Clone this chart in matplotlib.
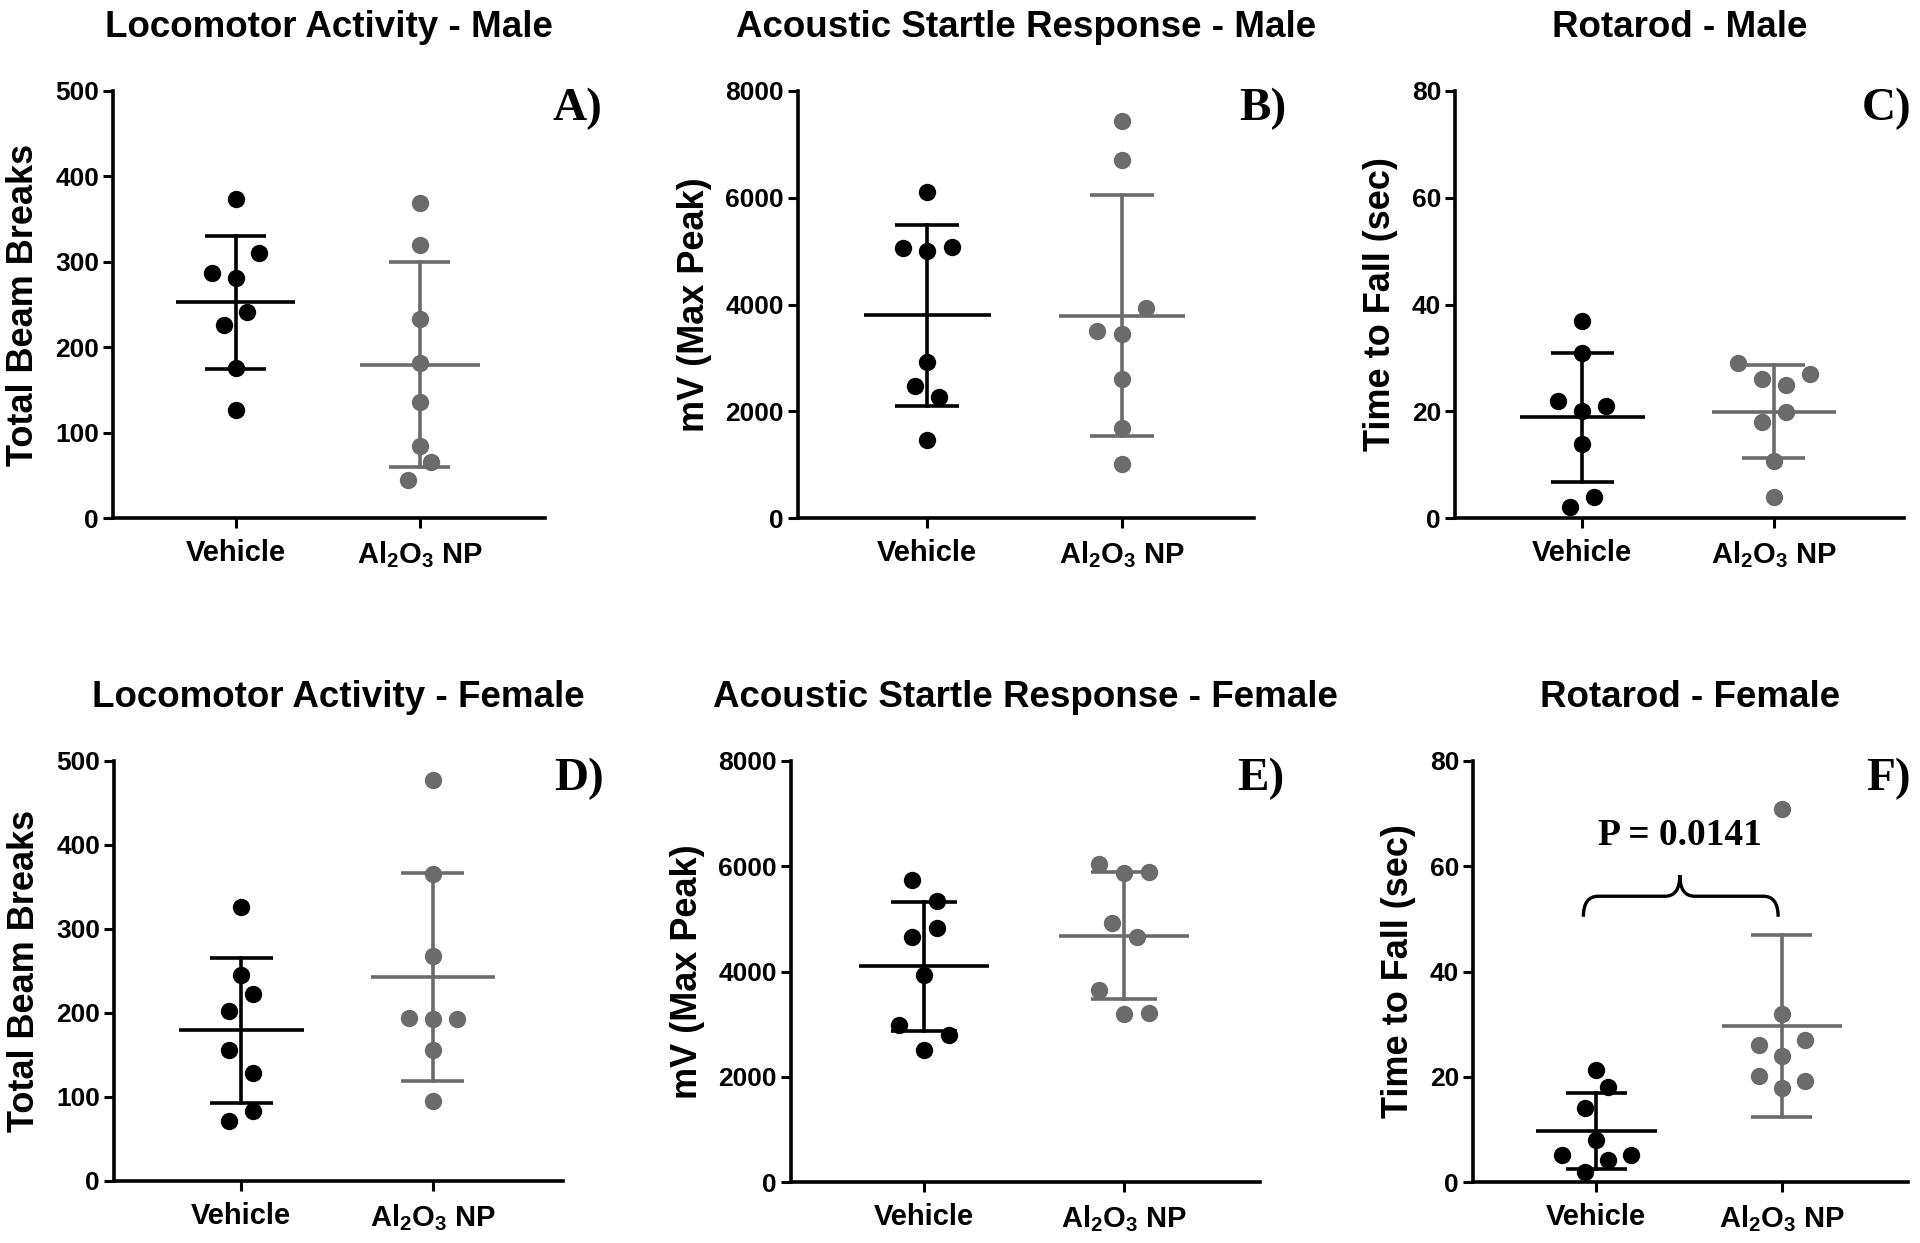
import numpy as np
import matplotlib
matplotlib.use('Agg')
import matplotlib.pyplot as plt
from matplotlib.path import Path
from matplotlib.patches import PathPatch

plt.rcParams['font.family'] = ['Liberation Sans', 'DejaVu Sans']
plt.rcParams['font.weight'] = 'bold'
plt.rcParams['mathtext.fontset'] = 'custom'
plt.rcParams['mathtext.rm'] = 'Liberation Sans'
plt.rcParams['mathtext.default'] = 'rm'

# ─── Data ────────────────────────────────────────────────────────────────────
GROUPS = ['Vehicle', r'Al$_2$O$_3$ NP']

loco_male_veh = [373, 310, 287, 281, 241, 226, 176, 126]
loco_male_np = [369, 320, 233, 182, 136, 84, 66, 45]
asr_male_veh = [6100, 5050, 5000, 5085, 2930, 2475, 2275, 1460]
asr_male_np = [7430, 6710, 3930, 3505, 3450, 2595, 1685, 1015]
rota_male_veh = [36.9, 30.9, 22.0, 21.0, 20.1, 13.9, 4.0, 2.1]
rota_male_np = [29.0, 27.0, 26.0, 24.9, 19.9, 18.0, 10.6, 4.0]

loco_fem_veh = [326, 245, 223, 202, 156, 129, 83, 72]
loco_fem_np = [477, 366, 268, 194, 193, 193, 156, 95]
asr_fem_veh = [5745, 5335, 4830, 4665, 3925, 2990, 2800, 2500]
asr_fem_np = [6040, 5865, 5900, 4915, 4665, 3645, 3185, 3220]
rota_fem_veh = [21.2, 18.1, 14.1, 7.9, 5.1, 5.1, 4.1, 1.9]
rota_fem_np = [70.8, 32.0, 26.0, 27.0, 23.9, 20.1, 19.1, 17.9]

# horizontal scatter offsets (in steps) for overlapping dots
jit_loco_male_veh = [0, 2, -2, 0, 1, -1, 0, 0]
jit_loco_male_np = [0, 0, 0, 0, 0, 0, 1, -1]
jit_asr_male_veh = [0, -2, 0, 2, 0, -1, 1, 0]
jit_asr_male_np = [0, 0, 2, -2, 0, 0, 0, 0]
jit_rota_male_veh = [0, 0, -2, 2, 0, 0, 1, -1]
jit_rota_male_np = [-3, 3, -1, 1, 1, -1, 0, 0]
jit_loco_fem_veh = [0, 0, 1, -1, -1, 1, 1, -1]
jit_loco_fem_np = [0, 0, 0, -2, 0, 2, 0, 0]
jit_asr_fem_veh = [-1, 1, 1, -1, 0, -2, 2, 0]
jit_asr_fem_np = [-2, 0, 2, -1, 1, -2, 0, 2]
jit_rota_fem_veh = [0, 1, -1, 0, -3, 3, 1, -1]
jit_rota_fem_np = [0, 0, -2, 2, 0, -2, 2, 0]

P_TEXT = 'P = 0.0141'

# ─── Style ──────────────────────────────────────────────────────────────────
BLACK = '#000000'
GRAY = '#6b6b6b'
W, H = 1920, 1243
STEP = 0.0625
LW = 2.6

panels = [
    # title, ylabel, ymax, ystep, letter, letter right edge (px),
    # axes box in px (left, top, right, bottom), data, jitter
    ('Locomotor Activity - Male', 'Total Beam Breaks', 500, 100, 'A)', 602,
     (113, 91, 545, 518), loco_male_veh, loco_male_np, jit_loco_male_veh, jit_loco_male_np),
    ('Acoustic Startle Response - Male', 'mV (Max Peak)', 8000, 2000, 'B)', 1286,
     (798, 91, 1254, 518), asr_male_veh, asr_male_np, jit_asr_male_veh, jit_asr_male_np),
    ('Rotarod - Male', 'Time to Fall (sec)', 80, 20, 'C)', 1912,
     (1455, 91, 1904, 518), rota_male_veh, rota_male_np, jit_rota_male_veh, jit_rota_male_np),
    ('Locomotor Activity - Female', 'Total Beam Breaks', 500, 100, 'D)', 604,
     (114, 761, 563, 1181), loco_fem_veh, loco_fem_np, jit_loco_fem_veh, jit_loco_fem_np),
    ('Acoustic Startle Response - Female', 'mV (Max Peak)', 8000, 2000, 'E)', 1284,
     (791, 761, 1260, 1182), asr_fem_veh, asr_fem_np, jit_asr_fem_veh, jit_asr_fem_np),
    ('Rotarod - Female', 'Time to Fall (sec)', 80, 20, 'F)', 1911,
     (1473, 761, 1908, 1182), rota_fem_veh, rota_fem_np, jit_rota_fem_veh, jit_rota_fem_np),
]

fig = plt.figure(figsize=(W / 100, H / 100), dpi=100)
fig.patch.set_facecolor('white')

axes = []
for title, ylabel, ymax, ystep, letter, lx, (l, t, r, b), veh, npg, jv, jn in panels:
    ax = fig.add_axes([l / W, 1 - b / H, (r - l) / W, (b - t) / H])
    axes.append(ax)

    for gi, (vals, jit, col) in enumerate([(veh, jv, BLACK), (npg, jn, GRAY)]):
        vals = np.asarray(vals, dtype=float)
        xs = gi + np.asarray(jit) * STEP
        m = vals.mean()
        sd = vals.std(ddof=1)
        ax.plot(xs, vals, 'o', color=col, ms=12.5, mec='none', zorder=3, clip_on=False)
        ax.plot([gi - 0.325, gi + 0.325], [m, m], color=col, lw=LW, zorder=2, solid_capstyle='butt')
        ax.plot([gi, gi], [m - sd, m + sd], color=col, lw=LW, zorder=2)
        for yv in (m - sd, m + sd):
            ax.plot([gi - 0.165, gi + 0.165], [yv, yv], color=col, lw=LW, zorder=2,
                    solid_capstyle='butt')

    ax.set_xlim(-0.665, 1.68)
    ax.set_ylim(0, ymax)
    ax.set_yticks(np.arange(0, ymax + 1, ystep))
    ax.set_xticks([0, 1])
    ax.set_xticklabels(GROUPS, fontsize=21, fontweight='bold')
    ax.tick_params(axis='y', labelsize=19, width=2.2, length=7, pad=3)
    ax.tick_params(axis='x', width=2.2, length=7, pad=8)
    for lab in ax.get_yticklabels():
        lab.set_fontweight('bold')
    for s in ('top', 'right'):
        ax.spines[s].set_visible(False)
    for s in ('left', 'bottom'):
        ax.spines[s].set_linewidth(2.6)
    ax.set_ylabel(ylabel, fontsize=26, fontweight='bold', labelpad=10)
    ax.set_title(title, fontsize=26.5, fontweight='bold', pad=39)

    fig.text(lx / W, 1 - (t - 3) / H, letter, ha='right', va='top', fontsize=34,
             fontweight='bold', family='Liberation Serif')

# ─── Brace + P value on the female rotarod panel ────────────────────────────
axf = axes[5]
x0, x1, xc, r = -0.07, 0.98, 0.45, 0.08
y0, ym, yp = 50.4, 54.3, 58.3
verts = [(x0, y0), (x0, ym), (x0 + r, ym), (xc - r, ym), (xc, ym), (xc, yp),
         (xc, ym), (xc + r, ym), (x1 - r, ym), (x1, ym), (x1, y0)]
codes = [Path.MOVETO, Path.CURVE3, Path.CURVE3, Path.LINETO, Path.CURVE3, Path.CURVE3,
         Path.CURVE3, Path.CURVE3, Path.LINETO, Path.CURVE3, Path.CURVE3]
axf.add_patch(PathPatch(Path(verts, codes), fill=False, lw=2.4, color=BLACK, zorder=2))
axf.text(0.45, 64.0, P_TEXT, ha='center', va='baseline', fontsize=27,
         fontweight='bold', family='Liberation Serif')

fig.savefig('out.png', dpi=100, facecolor='white')
